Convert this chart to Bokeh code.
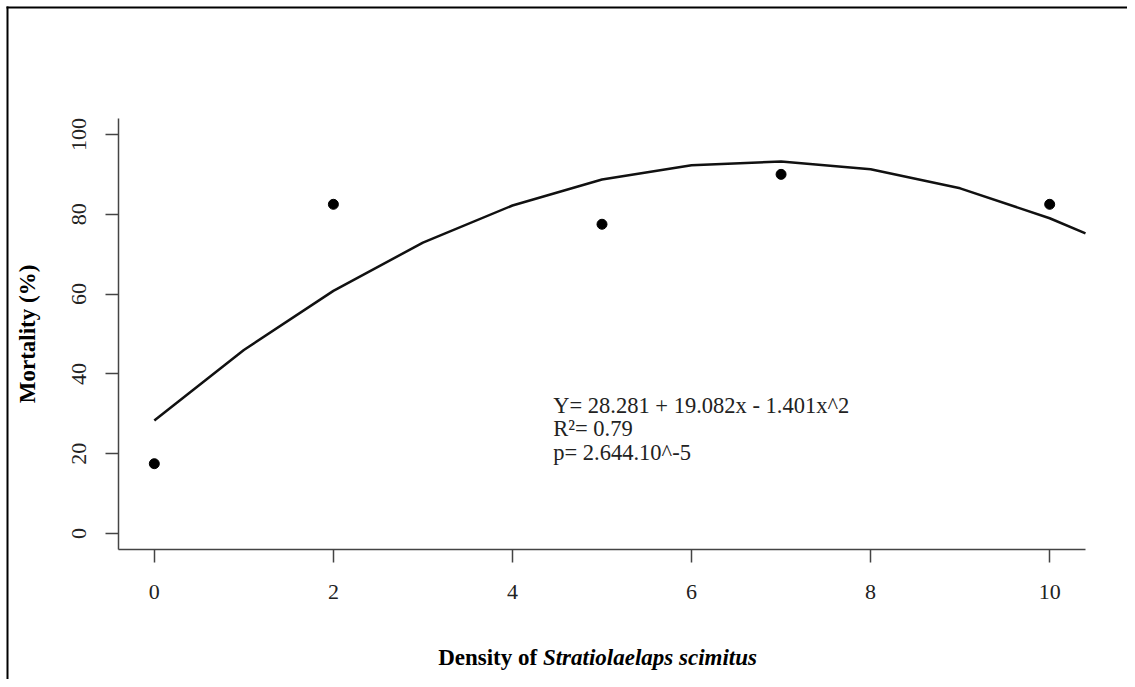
from bokeh.plotting import figure
from bokeh.models import Range1d, FixedTicker, Label, BoxAnnotation
from bokeh.embed import file_html
from bokeh.resources import INLINE

# ---- data ----
x_obs = [0, 2, 5, 7, 10]
y_obs = [17.5, 82.5, 77.5, 90.0, 82.5]

x_fit = [0, 1, 2, 3, 4, 5, 6, 7, 8, 9, 10, 10.4]
y_fit = [28.3, 46.0, 60.8, 72.9, 82.2, 88.7, 92.3, 93.2, 91.3, 86.5, 79.0, 75.2]

x_ticks = [0, 2, 4, 6, 8, 10]
y_ticks = [0, 20, 40, 60, 80, 100]

eq_lines = ["Y= 28.281 + 19.082x - 1.401x^2", "R\u00b2= 0.79", "p= 2.644.10^-5"]
x_title_a = "Density of "
x_title_b = "Stratiolaelaps scimitus"
y_title = "Mortality (%)"

FONT = "Liberation Serif"

# ---- layout constants (pixels within the figure) ----
W, H = 1127, 679
FL, FR, FT, FB = 118, 1085, 118, 549          # plot region edges
XMIN, XMAX, YMIN, YMAX = -0.4, 10.4, -4.0, 104.0
sx = (FR - FL) / (XMAX - XMIN)
sy = (FB - FT) / (YMAX - YMIN)
x_start = XMIN - FL / sx
x_end = XMAX + (W - FR) / sx
y_end = YMAX + FT / sy
y_start = YMIN - (H - FB) / sy

p = figure(width=W, height=H, title=None,
           x_range=Range1d(x_start, x_end), y_range=Range1d(y_start, y_end),
           output_backend="svg", toolbar_location=None,
           min_border_left=0, min_border_right=0,
           min_border_top=0, min_border_bottom=0)
p.grid.visible = False
p.outline_line_color = None
p.background_fill_color = "white"
p.border_fill_color = "white"

for ax in (p.xaxis[0], p.yaxis[0]):
    ax.axis_line_color = "#444444"
    ax.axis_line_width = 1.5
    ax.major_tick_line_color = "#444444"
    ax.major_tick_line_width = 1.5
    ax.major_tick_out = 13
    ax.major_tick_in = 0
    ax.minor_tick_line_color = None
    ax.major_label_text_font = FONT
    ax.major_label_text_font_size = "22px"
    ax.major_label_text_color = "#222222"

p.xaxis.fixed_location = YMIN
p.yaxis.fixed_location = XMIN
p.xaxis.bounds = (XMIN, XMAX)
p.yaxis.bounds = (YMIN, YMAX)
p.xaxis.ticker = FixedTicker(ticks=x_ticks, minor_ticks=[])
p.yaxis.ticker = FixedTicker(ticks=y_ticks, minor_ticks=[])
p.xaxis.major_label_standoff = 22
p.yaxis.major_label_standoff = 19
p.yaxis.major_label_orientation = "vertical"

p.yaxis.axis_label = y_title
p.yaxis.axis_label_text_font = FONT
p.yaxis.axis_label_text_font_style = "bold"
p.yaxis.axis_label_text_font_size = "23px"
p.yaxis.axis_label_text_color = "black"
p.yaxis.axis_label_standoff = 30

# outer frame (only left and top edges fall inside the picture): thin filled strips
p.add_layout(BoxAnnotation(left=x_start + 6.0 / sx, right=x_start + 8.0 / sx,
                           top=y_end - 6.0 / sy,
                           fill_color="black", fill_alpha=1.0, line_color=None))
p.add_layout(BoxAnnotation(left=x_start + 6.0 / sx,
                           top=y_end - 6.0 / sy, bottom=y_end - 8.0 / sy,
                           fill_color="black", fill_alpha=1.0, line_color=None))

# fitted curve and observations
p.line(x_fit, y_fit, line_color="#111111", line_width=2.5)
p.scatter(x_obs, y_obs, size=10, fill_color="black", line_color="black")

# equation text
eq_y = [32.1, 26.3, 20.3]
for t, yy in zip(eq_lines, eq_y):
    p.add_layout(Label(x=4.456, y=yy, text=t, text_font=FONT, text_font_size="22.5px",
                       text_align="left", text_baseline="middle", text_color="#222222"))

# x-axis title (mixed styles)
p.add_layout(Label(x=4.34, y=-31.0, text=x_title_a, text_font=FONT,
                   text_font_size="23px", text_font_style="bold",
                   text_align="right", text_baseline="alphabetic", text_color="black"))
p.add_layout(Label(x=4.34, y=-31.0, text=x_title_b, text_font=FONT,
                   text_font_size="23px", text_font_style="bold italic",
                   text_align="left", text_baseline="alphabetic", text_color="black"))

open("out.html", "w").write(file_html(p, INLINE))
